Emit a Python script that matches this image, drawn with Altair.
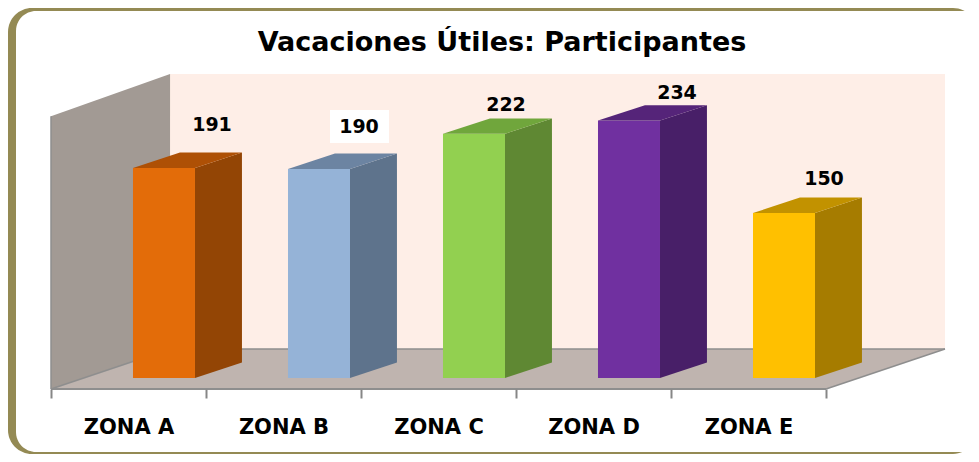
import altair as alt
import pandas as pd

zones = ["ZONA A", "ZONA B", "ZONA C", "ZONA D", "ZONA E"]
values = [191, 190, 222, 234, 150]
front_colors = ["#E36C09", "#95B3D7", "#92D050", "#7030A0", "#FFC000"]
side_colors = ["#934505", "#5E738C", "#5F8833", "#481F68", "#A67C00"]
top_colors = ["#AE5005", "#6C84A2", "#70A63C", "#552479", "#C29200"]
title_text = "Vacaciones Útiles: Participantes"

# Layout constants (scale units: x = category slots, y = participants)
W, H = 894, 315
PAD = {"left": 43, "top": 66, "right": 26, "bottom": 65}
X_MAX = 894 / 155
Y_MIN, Y_MAX = -10.0, 276.36
BAR_START, BAR_W = 0.529, 0.4
DX, DY = 0.303, 14.0
WALL_DX = 0.768
FLOOR_BACK, WALL_FRONT_TOP = 26.4, 238.0
LABEL_NUDGE = [(79, -43), (71, -42), (63, -29), (79, -28), (71, -34)]

x_scale = alt.Scale(domain=[0, X_MAX], nice=False, zero=False)
y_scale = alt.Scale(domain=[Y_MIN, Y_MAX], nice=False, zero=False)
x_axis = alt.Axis(values=[0, 1, 2, 3, 4, 5], domain=False, grid=False, ticks=True, tickColor="#868686",
                  tickWidth=2, tickSize=9, title=None, labelOffset=77.5, labelAngle=0, labelPadding=18,
                  labelExpr="['ZONA A','ZONA B','ZONA C','ZONA D','ZONA E',''][datum.value]",
                  labelFont="DejaVu Sans", labelFontWeight=700, labelFontSize=21, labelColor="#000000",
                  labelOverlap=False, labelFlush=False, zindex=1)
X = lambda f="x": alt.X(f"{f}:Q", scale=x_scale, axis=x_axis)
Y = lambda f="y": alt.Y(f"{f}:Q", scale=y_scale, axis=None, stack=None)

bars = pd.DataFrame({"zone": zones, "value": values})
bars["x0"] = [i + BAR_START for i in range(5)]
bars["x1"] = bars["x0"] + BAR_W
bars["base"] = 0

side_rows, top_rows = [], []
for z, v, x1 in zip(zones, values, bars["x1"]):
    side_rows += [
        {"zone": z, "x": x1, "lo": 0, "hi": v},
        {"zone": z, "x": x1 + DX, "lo": DY, "hi": v + DY},
    ]
    top_rows += [
        {"zone": z, "y": v, "a": x1 - BAR_W, "b": x1},
        {"zone": z, "y": v + DY, "a": x1 - BAR_W + DX, "b": x1 + DX},
    ]
side_df, top_df = pd.DataFrame(side_rows), pd.DataFrame(top_rows)

outer = alt.Chart(pd.DataFrame({"k": [0]})).mark_rect(color="#948A54", cornerRadius=24).encode(
    x=alt.value(-43), x2=alt.value(926), y=alt.value(-66), y2=alt.value(380))
inner = alt.Chart(pd.DataFrame({"k": [0]})).mark_rect(color="#FFFFFF", cornerRadius=20).encode(
    x=alt.value(-35), x2=alt.value(990), y=alt.value(-63), y2=alt.value(378))

back = alt.Chart(pd.DataFrame({"x": [WALL_DX], "x2": [X_MAX], "y": [FLOOR_BACK], "y2": [Y_MAX]})).mark_rect(
    color="#FEEEE7").encode(x=X(), x2="x2:Q", y=Y(), y2="y2:Q")

wall = alt.Chart(pd.DataFrame({"x": [0, WALL_DX], "y": [Y_MIN, FLOOR_BACK], "y2": [WALL_FRONT_TOP, Y_MAX]})).mark_area(
    color="#A29A94", orient="vertical").encode(x=X(), y=Y(), y2="y2:Q")

floor = alt.Chart(pd.DataFrame({"y": [Y_MIN, FLOOR_BACK], "x": [0, WALL_DX], "x2": [5, X_MAX]})).mark_area(
    color="#BFB4AF", orient="horizontal").encode(y=Y(), x=X(), x2="x2:Q")

edges = pd.DataFrame({
    "e": ["front", "front", "right", "right", "back", "back", "left", "left", "corner", "corner"],
    "x": [0, 5, 5, X_MAX, WALL_DX, X_MAX, 0, 0, 0, WALL_DX],
    "y": [Y_MIN, Y_MIN, Y_MIN, FLOOR_BACK, FLOOR_BACK, FLOOR_BACK, Y_MIN, WALL_FRONT_TOP, Y_MIN, FLOOR_BACK],
    "o": list(range(10)),
    "w": [2, 2, 1.5, 1.5, 1.5, 1.5, 1.5, 1.5, 1.5, 1.5],
})
edge_lines = alt.Chart(edges).mark_line(color="#8E8E8E").encode(
    x=X(), y=Y(), detail="e:N", order="o:Q", strokeWidth=alt.StrokeWidth("w:Q", scale=None))

zcolor = lambda cols: alt.Color("zone:N", scale=alt.Scale(domain=zones, range=cols), legend=None)
side = alt.Chart(side_df).mark_area(orient="vertical").encode(x=X(), y=Y("lo"), y2="hi:Q", color=zcolor(side_colors))
front = alt.Chart(bars).mark_rect().encode(x=X("x0"), x2="x1:Q", y=Y("base"), y2="value:Q", color=zcolor(front_colors))
top = alt.Chart(top_df).mark_area(orient="horizontal").encode(y=Y(), x=X("a"), x2="b:Q", color=zcolor(top_colors))

box = alt.Chart(pd.DataFrame({"x": [(330 - 51) / 155], "x2": [(389 - 51) / 155], "y": [(378 - 143) / 1.1], "y2": [(378 - 110) / 1.1]})).mark_rect(
    color="#FFFFFF").encode(x=X(), x2="x2:Q", y=Y(), y2="y2:Q")

labels = []
for i, (dx, dy) in enumerate(LABEL_NUDGE):
    labels.append(
        alt.Chart(bars.iloc[[i]]).mark_text(font="DejaVu Sans", fontWeight=700, fontSize=19, color="#000000", dx=dx, dy=dy, align="center", baseline="middle")
        .encode(x=X("x0"), y=Y("value"), text="value:Q")
    )

chart = alt.layer(outer, inner, back, wall, floor, edge_lines, side, front, top, box, *labels).resolve_scale(
    color="independent"
).properties(
    width=W, height=H,
    padding=PAD,
    autosize=alt.AutoSizeParams(type="none"),
    background="#FFFFFF",
    title=alt.TitleParams(title_text, font="DejaVu Sans", fontWeight=700, fontSize=27, color="#000000", anchor="middle", offset=-49, dx=4),
).configure_view(stroke=None)

chart.save("out.html", embed_options={"renderer": "svg", "actions": False})
